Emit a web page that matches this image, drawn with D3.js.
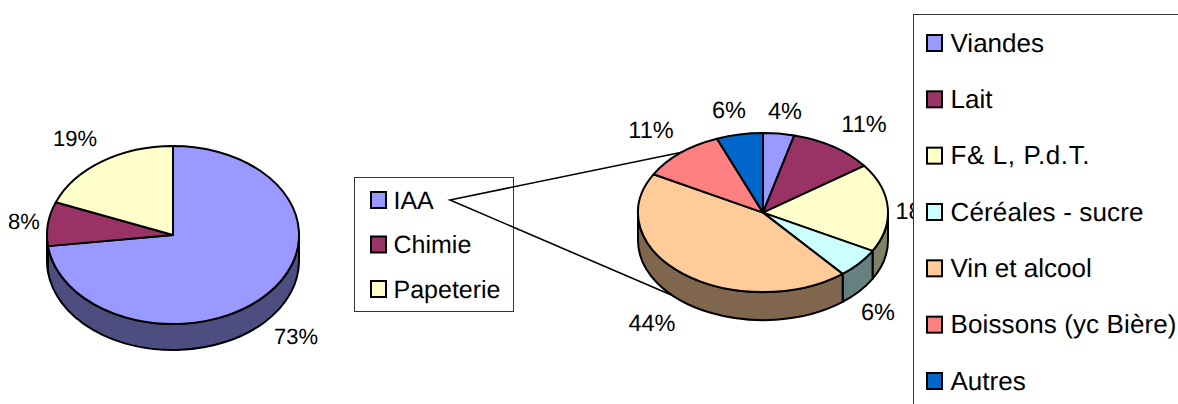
<!DOCTYPE html>
<html>
<head>
<meta charset="utf-8">
<script src="https://cdn.jsdelivr.net/npm/d3@7/dist/d3.min.js"></script>
<style>
html,body{margin:0;padding:0;background:#fff;overflow:hidden}
svg{display:block}
text{font-family:"Liberation Sans",Arial,sans-serif;fill:#000;text-rendering:geometricPrecision}
</style>
</head>
<body>
<svg id="chart" width="1178" height="404"></svg>
<script>
// Sector shares: all industries on the left, food industries broken down on the right
const sectorNames = ["IAA", "Chimie", "Papeterie"];
const sectorValues = [73, 8, 19];
const sectorColors = ["#9999ff", "#993366", "#ffffcc"];

const foodNames = ["Viandes", "Lait", "F& L, P.d.T.", "Céréales - sucre", "Vin et alcool", "Boissons (yc Bière)", "Autres"];
const foodValues = [4, 11, 18, 6, 44, 11, 6];
const foodColors = ["#9999ff", "#993366", "#ffffcc", "#ccffff", "#ffcc99", "#ff8080", "#0066cc"];

// Layout of each tilted pie and the centres of its percentage labels
const sectorPie = {cx: 173, cy: 235, rx: 126, ry: 89, depth: 26, labelSize: 22};
const foodPie = {cx: 763, cy: 212.6, rx: 125, ry: 79.5, depth: 28, labelSize: 23.5};
const sectorLabelAt = [[296, 336], [24, 221], [75, 138]];
const foodLabelAt = [[785, 111], [864, 124], [919, 211], [878, 312], [652, 323], [651, 130], [729, 110]];

// Set widths of the breakdown legend entries that run wider than their font size
const wideEntries = {"F& L, P.d.T.": 139, "Céréales - sucre": 193, "Boissons (yc Bière)": 226};

const svg = d3.select("#chart");
const EDGE = 2;

// Draws one pie: extruded front wall first, then the flattened top face and its labels
function drawPie(cfg, values, colors, labelAt) {
  const arcs = d3.pie().sort(null)(values);
  const g = svg.append("g");
  const halfPi = Math.PI / 2;

  // Point on the rim for a clockwise-from-top angle
  const rim = a => [cfg.cx + cfg.rx * Math.sin(a), cfg.cy - cfg.ry * Math.cos(a)];

  arcs.forEach((d, i) => {
    const a0 = Math.max(d.startAngle, halfPi);
    const a1 = Math.min(d.endAngle, 3 * halfPi);
    if (a1 <= a0) return;
    const [x0, y0] = rim(a0), [x1, y1] = rim(a1);
    const wall = `M${x0},${y0}A${cfg.rx},${cfg.ry} 0 0 1 ${x1},${y1}` +
      `L${x1},${y1 + cfg.depth}A${cfg.rx},${cfg.ry} 0 0 0 ${x0},${y0 + cfg.depth}Z`;
    const dark = d3.rgb(colors[i]);
    g.append("path")
      .attr("d", wall)
      .attr("fill", d3.rgb(dark.r / 2, dark.g / 2, dark.b / 2))
      .attr("stroke", "#000")
      .attr("stroke-width", EDGE)
      .attr("stroke-linejoin", "round");
  });

  const arc = d3.arc().innerRadius(0).outerRadius(1);
  g.selectAll("path.top")
    .data(arcs)
    .join("path")
    .attr("class", "top")
    .attr("d", arc)
    .attr("transform", `translate(${cfg.cx},${cfg.cy}) scale(${cfg.rx},${cfg.ry})`)
    .attr("fill", (d, i) => colors[i])
    .attr("stroke", "#000")
    .attr("stroke-width", EDGE)
    .attr("stroke-linejoin", "round")
    .attr("vector-effect", "non-scaling-stroke");

  svg.selectAll(null)
    .data(arcs)
    .join("text")
    .attr("x", (d, i) => labelAt[i][0])
    .attr("y", (d, i) => labelAt[i][1] + 8)
    .attr("text-anchor", "middle")
    .attr("font-size", cfg.labelSize)
    .text(d => d.value + "%");
}

// Boxed legend with outlined colour swatches
function drawLegend(names, colors, box, rows) {
  const g = svg.append("g");
  g.append("rect")
    .attr("x", box.x).attr("y", box.y)
    .attr("width", box.w).attr("height", box.h)
    .attr("fill", "#fff").attr("stroke", "#333").attr("stroke-width", 1);
  const y = d3.scalePoint().domain(names).range([rows.first, rows.last]);
  const row = g.selectAll("g").data(names).join("g")
    .attr("transform", d => `translate(0,${y(d)})`);
  row.append("rect")
    .attr("x", rows.swatchX).attr("y", -8)
    .attr("width", 15).attr("height", 16)
    .attr("fill", (d, i) => colors[i])
    .attr("stroke", "#000").attr("stroke-width", EDGE);
  row.append("text")
    .attr("x", rows.textX).attr("y", 8.5)
    .attr("font-size", rows.size)
    .attr("textLength", d => wideEntries[d] || null)
    .text(d => d);
}

drawPie(sectorPie, sectorValues, sectorColors, sectorLabelAt);
drawLegend(sectorNames, sectorColors,
  {x: 354.5, y: 177.5, w: 159, h: 134},
  {first: 200, last: 289, swatchX: 371, textX: 393.5, size: 25});

// Leader lines from the IAA entry to the breakdown pie, running behind it
svg.append("path")
  .attr("d", "M683,152L450,200L683,300")
  .attr("fill", "none").attr("stroke", "#000").attr("stroke-width", 1.6);

drawPie(foodPie, foodValues, foodColors, foodLabelAt);
drawLegend(foodNames, foodColors,
  {x: 913.5, y: 14.5, w: 300, h: 420},
  {first: 43, last: 381, swatchX: 927, textX: 950.5, size: 26});
</script>
</body>
</html>
